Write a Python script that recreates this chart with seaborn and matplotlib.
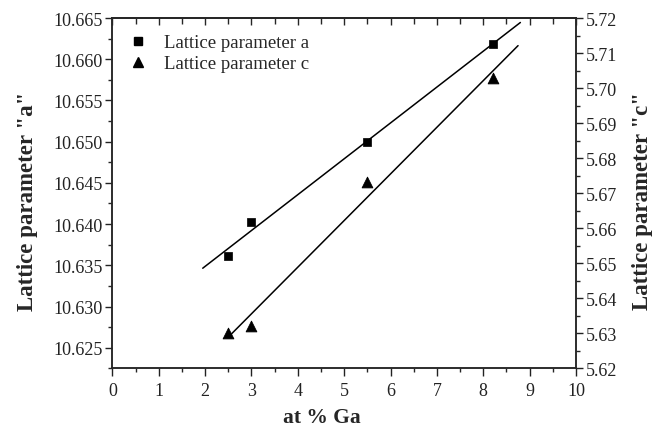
import numpy as np
import pandas as pd
import matplotlib
matplotlib.use("Agg")
import matplotlib.pyplot as plt
import seaborn as sns
from matplotlib.ticker import MultipleLocator, FormatStrFormatter
from matplotlib.lines import Line2D

# data
ga = [2.5, 3.0, 5.5, 8.2]
lat_a = [10.6361, 10.6403, 10.6500, 10.6618]
lat_c = [5.6300, 5.6321, 5.6732, 5.7028]
fit_range_a = [1.95, 8.8]
fit_range_c = [2.52, 8.75]
label_a = "Lattice parameter a"
label_c = "Lattice parameter c"

sns.set_style("ticks")
plt.rcParams['font.family'] = ['Liberation Serif', 'DejaVu Serif']
plt.rcParams['axes.linewidth'] = 1.1

fig = plt.figure(figsize=(6.58, 4.27), dpi=100)
ax = fig.add_axes([0.1707, 0.135, 0.7047, 0.8205])
ax2 = ax.twinx()

df = pd.DataFrame({'ga': ga, 'a': lat_a, 'c': lat_c})

# fitted lines
pa = np.polyfit(ga, lat_a, 1)
pc = np.polyfit(ga, lat_c, 1)
xa = np.array(fit_range_a)
xc = np.array(fit_range_c)
sns.lineplot(x=xa, y=np.polyval(pa, xa), color='black', lw=1.1, ax=ax, legend=False)
sns.lineplot(x=xc, y=np.polyval(pc, xc), color='black', lw=1.1, ax=ax2, legend=False)

sns.scatterplot(data=df, x='ga', y='a', marker='s', s=40, color='black',
                edgecolor='black', ax=ax, legend=False, zorder=3)
sns.scatterplot(data=df, x='ga', y='c', marker='^', s=60, color='black',
                edgecolor='black', ax=ax2, legend=False, zorder=3)

ax.set_xlim(0, 10)
ax.set_ylim(10.6225, 10.665)
ax2.set_ylim(5.62, 5.72)

ax.xaxis.set_major_locator(MultipleLocator(1))
ax.xaxis.set_minor_locator(MultipleLocator(0.5))
ax.yaxis.set_major_locator(MultipleLocator(0.005))
ax.yaxis.set_minor_locator(MultipleLocator(0.0025))
ax.yaxis.set_major_formatter(FormatStrFormatter('%.3f'))
ax2.yaxis.set_major_locator(MultipleLocator(0.01))
ax2.yaxis.set_minor_locator(MultipleLocator(0.005))
ax2.yaxis.set_major_formatter(FormatStrFormatter('%.2f'))

ax.tick_params(axis='both', which='major', direction='out', length=5, width=1.0,
               labelsize=13, colors='#222222', pad=2)
ax.tick_params(axis='x', which='major', length=6, pad=4)
ax.tick_params(axis='both', which='minor', direction='out', length=3, width=1.0)
ax.tick_params(axis='x', top=False)
ax2.tick_params(axis='y', which='major', direction='out', length=5, width=1.0,
                labelsize=13, colors='#222222', pad=2)
ax2.tick_params(axis='y', which='minor', direction='out', length=3, width=1.0)

sec = ax.secondary_xaxis('top')
sec.xaxis.set_major_locator(MultipleLocator(1))
sec.xaxis.set_minor_locator(MultipleLocator(0.5))
sec.tick_params(axis='x', which='major', direction='in', length=5, width=1.0, labeltop=False)
sec.tick_params(axis='x', which='minor', direction='in', length=4, width=1.0)

ax.set_xlabel('at % Ga', fontsize=15.5, fontweight='bold')
ax.xaxis.label.set_va('baseline')
ax.xaxis.set_label_coords(0.452, -0.153)
ax.set_ylabel('Lattice parameter "a"', fontsize=16.5, fontweight='bold')
ax.yaxis.set_label_coords(-0.160, 0.48)
ax2.set_ylabel('Lattice parameter "c"', rotation=90, fontsize=16.5, fontweight='bold')
ax2.yaxis.set_label_coords(1.121, 0.48)

handles = [
    Line2D([], [], marker='s', color='black', linestyle='none', markersize=5.5),
    Line2D([], [], marker='^', color='black', linestyle='none', markersize=7.5),
]
ax2.legend(handles, [label_a, label_c], loc='upper left', frameon=False,
           fontsize=13.5, handlelength=1.0, handletextpad=0.9,
           borderaxespad=0.45, labelspacing=0.22, bbox_to_anchor=(0.0, 1.0))

fig.savefig('out.png', dpi=100)
